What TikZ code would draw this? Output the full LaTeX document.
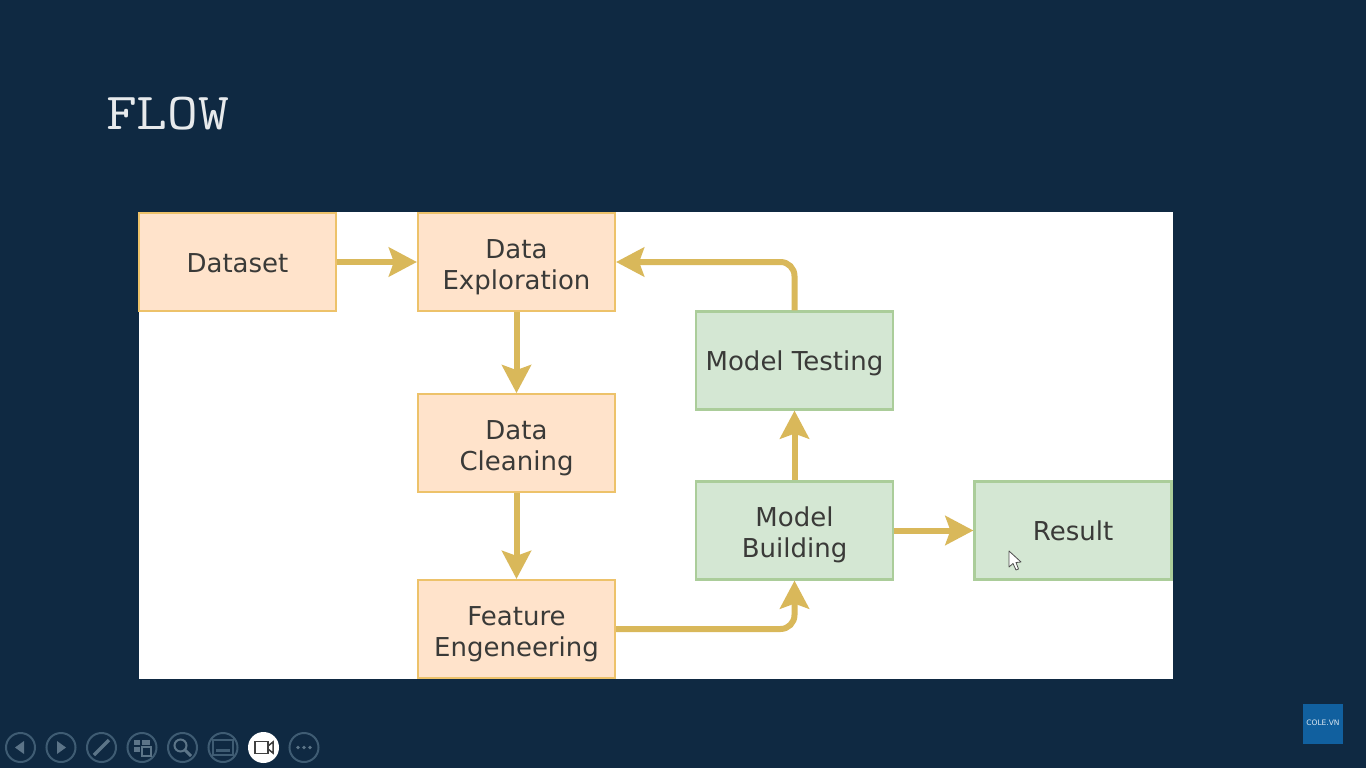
\documentclass[tikz,border=0pt]{standalone}
\usepackage{fontspec}
\setmainfont{DejaVu Sans}
\newfontfamily\titlefont[FakeStretch=1.15]{Latin Modern Mono}
\usetikzlibrary{arrows.meta,positioning}
\definecolor{slidebg}{HTML}{0F2942}
\definecolor{stepfill}{HTML}{FFE3CB}
\definecolor{stepline}{HTML}{EDC26A}
\definecolor{modelfill}{HTML}{D4E7D3}
\definecolor{modelline}{HTML}{ABCD9A}
\definecolor{flowline}{HTML}{D9B85A}
\definecolor{ringcol}{HTML}{3F5C73}
\definecolor{logobox}{HTML}{11609F}
\definecolor{labelcol}{HTML}{3A3A38}
\tikzset{
  stepbox/.style={draw=stepline,fill=stepfill,line width=2.2pt,minimum width=197pt,minimum height=98pt,
    align=center,inner sep=0pt,font=\fontsize{26}{31}\selectfont,text=labelcol,
    execute at begin node={\rule{0pt}{27pt}},execute at end node={\rule[-7pt]{0pt}{1pt}}},
  twoline/.style={execute at begin node={\rule{0pt}{61pt}}},
  modelbox/.style={stepbox,draw=modelline,fill=modelfill},
  flow/.style={draw=flowline,line width=6pt,rounded corners=14pt,
    -{Stealth[length=28pt,width=29pt,inset=5pt]}},
  ring/.style={draw=ringcol,line width=2pt},
  glyph/.style={fill=ringcol!85!white},
}
\begin{document}
\begin{tikzpicture}[x=1pt,y=-1pt]

\fill[slidebg] (0,0) rectangle (1366,768);
\useasboundingbox (0,0) rectangle (1366,768);
\node[anchor=base west,inner sep=0pt,text=white!90!slidebg,font=\fontsize{52}{52}\selectfont\titlefont] (title) at (106,129) {FLOW};
%white sheet behind the flow
\fill[white] (139,212) rectangle (1173,679);

%left column
\node[stepbox] (dataset) at (237.5,262) {Dataset};
\node[stepbox,twoline] (explore) at (516.5,262) {Data\\Exploration};
\node[stepbox,twoline,below=81pt of explore] (clean) {Data\\Cleaning};
\node[stepbox,twoline] (feature) at (516.5,629) {Feature\\Engeneering};
%right column
\node[modelbox] (testing) at (794.5,360.5) {Model Testing};
\node[modelbox,twoline] (building) at (794.5,530.5) {Model\\Building};
\node[modelbox] (result) at (1073,530.5) {Result};

\draw[flow] (dataset) -- (explore);
\draw[flow] (explore) -- (clean);
\draw[flow] (clean) -- (feature);
\draw[flow] (feature.east) -| (building.south);
\draw[flow] (building) -- (testing);
\draw[flow] (building) -- (result);
\draw[flow] (testing.north) |- (explore.east);

%mouse pointer
\draw[fill=white,draw=black!70,line width=.8pt,line join=round] (1009,551) -- (1009,567) -- (1013,563.5) -- (1016,570) -- (1018.5,569) -- (1016,562.5) -- (1021,562) -- cycle;

%logo
\fill[logobox] (1303,704) rectangle (1343,744);
\node[text=white!85!logobox,font=\fontsize{7.5}{8}\selectfont,inner sep=0pt] (logo) at (1323,723) {COLE.VN};

%toolbar
\foreach \x in {20.5,61,101.5,142,182.5,223,304}
  \draw[ring] (\x,747.5) circle(14.5);
\fill[white] (263.5,747.5) circle(15.5);
%back and forward
\fill[glyph] (15,747.5) -- (24,741) -- (24,754) -- cycle;
\fill[glyph] (66,747.5) -- (57,741) -- (57,754) -- cycle;
%pen
\draw[ringcol!85!white,line width=3.5pt] (94,755) -- (109,740);
%slides
\fill[glyph] (134,740) rectangle (140,745);
\fill[glyph] (134,747) rectangle (140,752);
\fill[glyph] (142,740) rectangle (150,745);
\draw[ringcol!85!white,line width=1.6pt,fill=slidebg] (142,747) rectangle (151,756);
%zoom
\draw[ringcol!85!white,line width=2pt] (180.5,745.5) circle(6);
\draw[ringcol!85!white,line width=3pt] (185,750) -- (191,756);
%subtitles
\draw[ringcol,line width=1.5pt] (213,740) rectangle (233,755);
\fill[ringcol] (216,749) rectangle (230,752);
%camera
\draw[black!75,line width=1.5pt,fill=white] (255,741.5) rectangle (268,753.5);
\draw[black!75,line width=1.5pt] (268,746) -- (273,742) -- (273,753) -- (268,749);
%dots
\foreach \x in {298,304,310}
  \fill[ringcol!85!white] (\x,747.5) circle(1.8);

\end{tikzpicture}
\end{document}
